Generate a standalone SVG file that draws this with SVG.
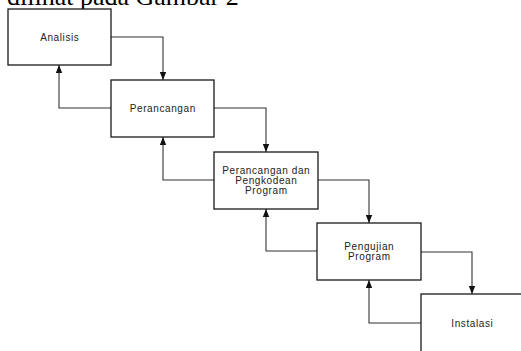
<svg xmlns="http://www.w3.org/2000/svg" width="521" height="351" viewBox="0 0 521 351">
<style>
.box{fill:#fff;stroke:#1a1a1a;stroke-width:1.3}
.lbl{font-family:"Liberation Sans",Arial,sans-serif;font-size:10px;letter-spacing:0.6px;fill:#222;text-anchor:middle}
.con{fill:none;stroke:#333;stroke-width:1.1}
.head{font-family:"Liberation Serif","Times New Roman",serif;font-size:26px;fill:#000}
</style>
<defs>
<marker id="ah" markerWidth="8" markerHeight="8" viewBox="0 0 8 8" refX="8" refY="4" orient="auto" markerUnits="userSpaceOnUse">
<path d="M0,0.8 L8,4 L0,7.2 Z" fill="#111"/>
</marker>
</defs>
<rect width="521" height="351" fill="#fff"/>
<text class="head" x="7" y="4.5">dilihat pada Gambar 2</text>
<g id="connectors">
<path class="con" d="M111,37 H163 V80" marker-end="url(#ah)"/>
<path class="con" d="M111,108 H59 V65" marker-end="url(#ah)"/>
<path class="con" d="M214,108 H266 V152" marker-end="url(#ah)"/>
<path class="con" d="M214,180 H163 V137" marker-end="url(#ah)"/>
<path class="con" d="M318,180 H369 V223" marker-end="url(#ah)"/>
<path class="con" d="M317,251 H266 V209" marker-end="url(#ah)"/>
<path class="con" d="M421,252 H472 V294" marker-end="url(#ah)"/>
<path class="con" d="M421,323 H369 V280" marker-end="url(#ah)"/>
</g>
<g id="analisis">
<rect class="box" x="8" y="9" width="103" height="56"/>
<text class="lbl" x="59.8" y="40.5">Analisis</text>
</g>
<g id="perancangan">
<rect class="box" x="111" y="80" width="103" height="57"/>
<text class="lbl" x="162.8" y="111.7">Perancangan</text>
</g>
<g id="perancangan-pengkodean">
<rect class="box" x="214" y="152" width="104" height="57"/>
<text class="lbl" x="266.3" y="173.6">Perancangan dan</text>
<text class="lbl" x="266.3" y="184">Pengkodean</text>
<text class="lbl" x="266.3" y="194.4">Program</text>
</g>
<g id="pengujian">
<rect class="box" x="317" y="223" width="104" height="57"/>
<text class="lbl" x="369.3" y="249.8">Pengujian</text>
<text class="lbl" x="369.3" y="260.2">Program</text>
</g>
<g id="instalasi">
<rect class="box" x="421" y="294" width="104" height="60"/>
<text class="lbl" x="472.3" y="326.5">Instalasi</text>
</g>
</svg>
